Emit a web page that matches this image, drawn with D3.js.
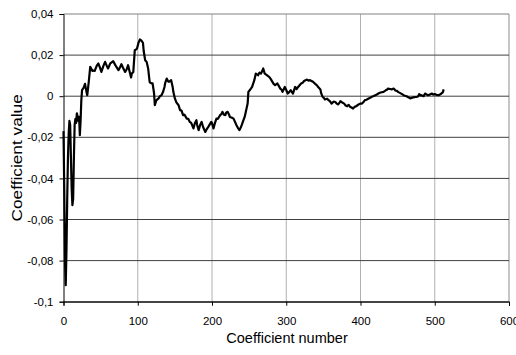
<html lang="en">
<head>
    <meta charset="UTF-8">
    <title>Coefficient values</title>
    <script src="https://d3js.org/d3.v7.min.js"></script>
    <style>
        body { margin: 0; background: #fff; }
        svg { display: block; font-family: "Liberation Sans", Arial, sans-serif; }
    </style>
</head>
<body>
    <div id="chart"></div>
    <script>
        // coefficient index and value
        var coefNum = [0, 1, 2, 3, 4, 5, 6, 7, 8, 9, 10, 11, 12, 13, 14, 15, 16, 17, 18, 19,
            20, 21, 22, 23, 24, 25, 27, 29, 31, 32, 34, 36, 38, 39, 41, 42, 45, 47, 49, 51,
            54, 56, 58, 60, 63, 67, 70, 74, 76, 78, 80, 83, 85, 87, 89, 91, 92, 94, 96, 98,
            99, 101, 103, 105, 107, 108, 110, 112, 114, 116, 117, 119, 120, 122, 123, 125, 128, 130, 132, 134,
            136, 137, 139, 141, 142, 143, 145, 147, 148, 150, 152, 155, 157, 159, 161, 163, 166, 168, 170, 172,
            175, 177, 179, 180, 182, 184, 186, 188, 191, 193, 195, 199, 200, 202, 204, 206, 208, 211, 213, 214,
            216, 218, 219, 221, 223, 224, 227, 229, 231, 233, 235, 237, 239, 240, 242, 244, 248, 249, 251, 254,
            257, 259, 262, 264, 266, 268, 269, 271, 273, 276, 278, 280, 283, 285, 288, 290, 292, 294, 295, 298,
            300, 302, 304, 306, 309, 312, 314, 316, 320, 322, 324, 326, 328, 330, 332, 334, 336, 339, 341, 343,
            346, 347, 349, 351, 352, 355, 357, 359, 361, 364, 366, 368, 370, 372, 373, 376, 378, 380, 382, 384,
            386, 388, 390, 392, 394, 396, 398, 400, 402, 404, 406, 408, 411, 413, 415, 417, 420, 422, 424, 427,
            431, 433, 434, 436, 437, 440, 442, 444, 445, 447, 449, 451, 453, 456, 458, 460, 462, 465, 467, 469,
            471, 474, 476, 478, 479, 481, 482, 485, 487, 489, 491, 494, 496, 498, 500, 503, 505, 507, 509, 511, 512];
        var coefValue = [-0.017, -0.045, -0.08, -0.092, -0.075, -0.05, -0.03, -0.018, -0.012, -0.014,
            -0.03, -0.045, -0.053, -0.05, -0.03, -0.014, -0.011, -0.013, -0.0083, -0.01,
            -0.012, -0.01, -0.019, -0.012, -0.002, 0.003, 0.004, 0.006, 0.002, 0.0005,
            0.007, 0.0143, 0.013, 0.0123, 0.0125, 0.0123, 0.015, 0.0159, 0.014, 0.0118,
            0.015, 0.0167, 0.015, 0.0135, 0.016, 0.017, 0.015, 0.0127, 0.014, 0.0156,
            0.014, 0.0118, 0.013, 0.0151, 0.012, 0.0091, 0.011, 0.0118, 0.0224, 0.0228,
            0.0232, 0.026, 0.0276, 0.027, 0.026, 0.022, 0.0175, 0.0167, 0.0135, 0.007,
            0.0065, 0.0062, 0.0062, 0.0013, -0.0044, -0.002, -0.0011, 0.0, 0.0005, 0.002,
            0.0045, 0.0065, 0.0086, 0.0072, 0.007, 0.0072, 0.0078, 0.0045, 0.002, -0.0011,
            -0.003, -0.0044, -0.0068, -0.007, -0.0092, -0.009, -0.0109, -0.011, -0.0125, -0.013,
            -0.0157, -0.013, -0.0117, -0.014, -0.0165, -0.014, -0.0125, -0.015, -0.0174, -0.016,
            -0.0149, -0.0125, -0.013, -0.0157, -0.013, -0.0109, -0.011, -0.0092, -0.0085, -0.0076,
            -0.009, -0.0092, -0.008, -0.0076, -0.009, -0.0101, -0.0105, -0.0109, -0.0125, -0.0141,
            -0.0155, -0.0165, -0.015, -0.0141, -0.012, -0.0101, -0.0036, 0.0021, 0.003, 0.0045,
            0.0078, 0.011, 0.0102, 0.0115, 0.011, 0.0125, 0.0135, 0.011, 0.0105, 0.0097,
            0.009, 0.0078, 0.006, 0.0054, 0.0062, 0.005, 0.0037, 0.003, 0.0021, 0.0045,
            0.003, 0.0013, 0.002, 0.0029, 0.0013, 0.0045, 0.0035, 0.0045, 0.0062, 0.0065,
            0.0074, 0.0078, 0.0081, 0.0076, 0.0078, 0.0074, 0.007, 0.006, 0.0054, 0.0045,
            0.0033, 0.0015, -0.0003, -0.001, -0.0016, -0.0012, -0.0019, -0.0025, -0.0036, -0.0026,
            -0.0028, -0.0036, -0.004, -0.003, -0.0024, -0.0032, -0.0036, -0.0045, -0.0049, -0.0042,
            -0.0052, -0.0055, -0.006, -0.0052, -0.0049, -0.0044, -0.0039, -0.0036, -0.0036, -0.0028,
            -0.0019, -0.0017, -0.0011, -0.0008, -0.0003, 0.0, 0.0005, 0.0008, 0.0013, 0.0018,
            0.0021, 0.0026, 0.0029, 0.0033, 0.0037, 0.0035, 0.0033, 0.0037, 0.0037, 0.0028,
            0.0026, 0.002, 0.0016, 0.001, 0.0005, 0.0002, 0.0, -0.0006, -0.0011, -0.0008,
            -0.0006, -0.0004, -0.0003, 0.0, 0.001, 0.0004, 0.0005, 0.0, 0.0013, 0.0008,
            0.0005, 0.0009, 0.0013, 0.0008, 0.001, 0.0006, 0.0005, 0.0008, 0.0013, 0.002, 0.0033];

        var xTicks = [0, 100, 200, 300, 400, 500, 600];
        var yTicks = [0.04, 0.02, 0, -0.02, -0.04, -0.06, -0.08, -0.1];
        var yTickLabels = ["0,04", "0,02", "0", "-0,02", "-0,04", "-0,06", "-0,08", "-0,1"];

        var width = 516, height = 355;
        var margin = {top: 14, right: 7, bottom: 53.3, left: 63.5};

        var svg = d3.select("#chart")
            .append("svg")
            .attr("width", width)
            .attr("height", height);

        var x = d3.scaleLinear()
            .domain([0, 600])
            .range([margin.left, width - margin.right]);

        var y = d3.scaleLinear()
            .domain([-0.1, 0.04])
            .range([height - margin.bottom, margin.top]);

        // vertical gridlines (light grey)
        svg.append("g")
            .selectAll("line")
            .data(xTicks.slice(1))
            .enter()
            .append("line")
            .attr("x1", d => x(d)).attr("x2", d => x(d))
            .attr("y1", y(-0.1)).attr("y2", y(0.04))
            .attr("stroke", d => d === 600 ? "#8c8c8c" : "#b0b0b0")
            .attr("stroke-width", 1);

        // horizontal gridlines (dark)
        svg.append("g")
            .selectAll("line")
            .data(yTicks.slice(1))
            .enter()
            .append("line")
            .attr("x1", x(0)).attr("x2", x(600))
            .attr("y1", d => y(d)).attr("y2", d => y(d))
            .attr("stroke", "#404040")
            .attr("stroke-width", 1);

        // top border
        svg.append("line")
            .attr("x1", x(0)).attr("x2", x(600))
            .attr("y1", y(0.04)).attr("y2", y(0.04))
            .attr("stroke", "#808080");

        // axes
        var xAxis = d3.axisBottom(x)
            .tickValues(xTicks)
            .tickSize(4)
            .tickPadding(11)
            .tickFormat(d3.format("d"));
        var gx = svg.append("g")
            .attr("transform", "translate(0," + y(-0.1) + ")")
            .call(xAxis);

        var yAxis = d3.axisLeft(y)
            .tickValues(yTicks)
            .tickSize(4)
            .tickPadding(6)
            .tickFormat((d, i) => yTickLabels[i]);
        var gy = svg.append("g")
            .attr("transform", "translate(" + x(0) + ",0)")
            .call(yAxis);

        [gx, gy].forEach(function(g) {
            g.select(".domain").attr("stroke", "#000");
            g.selectAll(".tick line").attr("stroke", "#000");
            g.selectAll(".tick text")
                .attr("fill", "#000")
                .style("font-size", "11.5px")
                .style("font-family", "'Liberation Sans', Arial, sans-serif");
        });

        // the coefficient curve
        var line = d3.line()
            .x((d, i) => x(coefNum[i]))
            .y(d => y(d));

        svg.append("path")
            .datum(coefValue)
            .attr("fill", "none")
            .attr("stroke", "#000")
            .attr("stroke-width", 2.2)
            .attr("stroke-linejoin", "round")
            .attr("d", line);

        // axis titles
        svg.append("text")
            .attr("x", 287)
            .attr("y", 342.5)
            .attr("text-anchor", "middle")
            .style("font-size", "14.5px")
            .text("Coefficient number");

        svg.append("text")
            .attr("transform", "translate(22," + (y(-0.03)) + ") rotate(-90) scale(1.15,1)")
            .attr("text-anchor", "middle")
            .style("font-size", "15px")
            .text("Coefficient value");
    </script>
</body>
</html>
